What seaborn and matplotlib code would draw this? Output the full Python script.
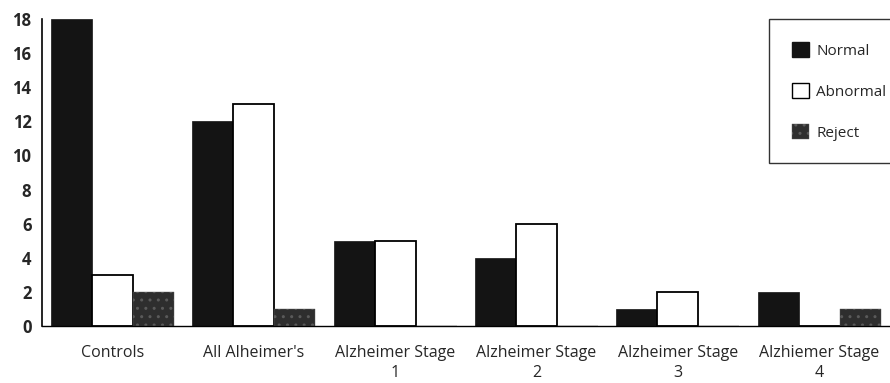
import matplotlib
matplotlib.use("Agg")
import matplotlib.pyplot as plt
import numpy as np
import pandas as pd
import seaborn as sns
from matplotlib.patches import Patch

groups = ["Controls", "All Alheimer's", "Alzheimer Stage\n1", "Alzheimer Stage\n2",
          "Alzheimer Stage\n3", "Alzhiemer Stage\n4"]
normal = [18, 12, 5, 4, 1, 2]
abnormal = [3, 13, 5, 6, 2, 0]
reject = [2, 1, 0, 0, 0, 1]
series = ["Normal", "Abnormal", "Reject"]

_BLACK = "#141414"
_WHITE = "#FFFFFF"
_REJECT = "#2E2E2E"

df = pd.DataFrame({
    "group": groups * 3,
    "series": [s for s in series for _ in groups],
    "count": normal + abnormal + reject,
})

sns.set_style("white")
plt.rcParams["font.family"] = ["Open Sans", "DejaVu Sans"]
plt.rcParams["hatch.linewidth"] = 1.0

fig = plt.figure(figsize=(8.9, 3.83), dpi=100)
ax = fig.add_axes([0.047, 0.149, 0.953, 0.801])

sns.barplot(data=df, x="group", y="count", hue="series", order=groups,
            hue_order=series, palette=[_BLACK, _WHITE, _REJECT], width=0.87,
            gap=0, saturation=1, ax=ax, legend=False)

# style each hue: white bars outlined, reject bars speckled dark grey
for container, s in zip(ax.containers, series):
    for bar in container:
        if s == "Abnormal":
            bar.set_edgecolor("black")
            bar.set_linewidth(1.3)
        elif s == "Reject":
            bar.set_edgecolor("#5a5a5a")
            bar.set_hatch("..")
            bar.set_linewidth(0.3)
        else:
            bar.set_edgecolor(_BLACK)
            bar.set_linewidth(0.5)

ax.set_xlim(-0.5, len(groups) - 0.5)
ax.set_ylim(0, 18)
ax.set_yticks(np.arange(0, 19, 2))
ax.set_xlabel("")
ax.set_ylabel("")
for side in ("top", "right"):
    ax.spines[side].set_visible(False)
ax.spines["left"].set_linewidth(1.2)
ax.spines["bottom"].set_linewidth(1.0)
ax.spines["left"].set_color("black")
ax.spines["bottom"].set_color("black")

# labels at group centres, small ticks at group boundaries
ax.set_xticks(np.arange(len(groups)))
ax.set_xticklabels(groups, fontsize=11.5, linespacing=1.3)
ax.tick_params(axis="x", length=0, pad=14)
ax.set_xticks(np.arange(len(groups) + 1) - 0.5, minor=True)
ax.tick_params(axis="x", which="minor", length=8, direction="inout", width=1)
ax.tick_params(axis="y", length=7, direction="inout", width=1, labelsize=12, pad=4)
for lab in ax.get_yticklabels():
    lab.set_fontweight("bold")

handles = [
    Patch(facecolor=_BLACK, edgecolor=_BLACK, label="Normal"),
    Patch(facecolor=_WHITE, edgecolor="black", label="Abnormal"),
    Patch(facecolor=_REJECT, edgecolor="#5a5a5a", hatch="..", linewidth=0.3, label="Reject"),
]
leg = ax.legend(handles=handles, loc="upper right", bbox_to_anchor=(1.023, 1.0),
                frameon=True, fancybox=False, fontsize=11, handlelength=1.1,
                handleheight=1.1, labelspacing=1.6, borderpad=1.5, handletextpad=0.5,
                borderaxespad=0)
leg.get_frame().set_edgecolor("black")
leg.get_frame().set_linewidth(1.0)

fig.savefig("out.png", dpi=100)
